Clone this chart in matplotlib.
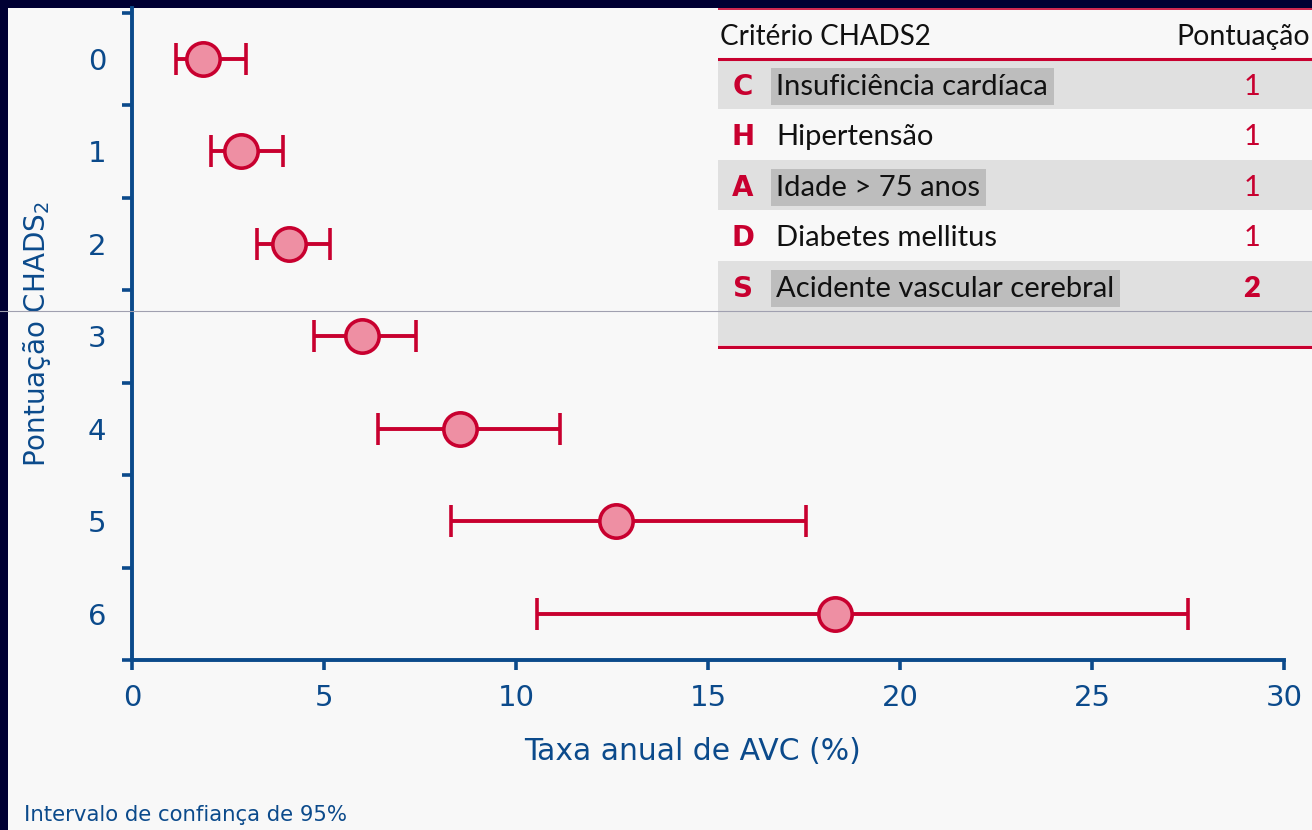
import matplotlib
matplotlib.use('Agg')
import matplotlib.pyplot as plt
from matplotlib.lines import Line2D
from matplotlib.patches import Rectangle
import numpy as np

# ---------------- data ----------------
chads_scores = [0, 1, 2, 3, 4, 5, 6]
stroke_rate = [1.85, 2.85, 4.1, 6.0, 8.55, 12.6, 18.3]
ci_low = [1.15, 2.05, 3.25, 4.75, 6.4, 8.3, 10.55]
ci_high = [2.98, 3.92, 5.15, 7.4, 11.15, 17.55, 27.5]
x_ticks = [0, 5, 10, 15, 20, 25, 30]

criteria_letters = ['C', 'H', 'A', 'D', 'S']
criteria_names = ['Insuficiência cardíaca', 'Hipertensão', 'Idade > 75 anos',
                  'Diabetes mellitus', 'Acidente vascular cerebral']
criteria_points = ['1', '1', '1', '1', '2']
criteria_highlight = [True, False, True, False, True]
row_shaded = [True, False, True, False, True, True]   # 5 criteria rows + blank row

# ---------------- style ----------------
NAVY = '#000033'
BG = '#f8f8f8'
BLUE = '#0b4a8b'
RED = '#c8002f'
PINK = '#ee8fa3'
W, H = 1312, 830

def fx(px):
    return px / W

def fy(py):
    return 1 - py / H

fig = plt.figure(figsize=(W / 100, H / 100), dpi=100, facecolor=NAVY)
fig.add_artist(Rectangle((fx(8), 0), 1 - fx(8), fy(8), transform=fig.transFigure,
                         facecolor=BG, edgecolor='none', zorder=-5))

# ---------------- main chart ----------------
ax = fig.add_axes([fx(132), fy(660), fx(1284) - fx(132), fy(8) - fy(660)])
ax.patch.set_visible(False)
rate = np.array(stroke_rate)
xerr = [rate - np.array(ci_low), np.array(ci_high) - rate]
ax.errorbar(rate, chads_scores, xerr=xerr, fmt='o', ms=24, mfc=PINK, mec=RED, mew=2.6,
            ecolor=RED, elinewidth=2.8, capsize=11.5, capthick=2.8, zorder=3)
ax.set_xlim(0, 30)
ax.set_ylim(6.5, -0.55)
ax.set_xticks(x_ticks)
ax.set_yticks(chads_scores)
ax.set_yticks(np.arange(-0.5, 7.0, 1.0), minor=True)
for s in ['top', 'right']:
    ax.spines[s].set_visible(False)
for s in ['left', 'bottom']:
    ax.spines[s].set_color(BLUE)
    ax.spines[s].set_linewidth(2.8)
    ax.spines[s].set_capstyle('projecting')
ax.tick_params(axis='y', which='major', length=0, pad=18.5, labelsize=21, labelcolor=BLUE)
ax.tick_params(axis='y', which='minor', length=7.2, width=2.6, color=BLUE, direction='out')
ax.tick_params(axis='x', which='major', length=7.2, width=2.6, color=BLUE, direction='out',
               pad=10, labelsize=21, labelcolor=BLUE)
ax.set_xlabel('Taxa anual de AVC (%)', fontsize=21.5, color=BLUE, va='center')
ax.xaxis.set_label_coords((692 - 132) / 1152, (660 - 751) / 652)
ax.set_ylabel('Pontuação CHADS$_2$', fontsize=20, color=BLUE, va='center')
ax.yaxis.set_label_coords((37 - 132) / 1152, 0.5)

fig.text(fx(24), fy(815), 'Intervalo de confiança de 95%', fontsize=15.3, color=BLUE,
         va='center', ha='left')

# ---------------- criteria table ----------------
tax = fig.add_axes([fx(718), fy(349), 1 - fx(718), fy(8) - fy(349)])
tax.set_xlim(0, 1)
n_rows = len(criteria_names)
tax.set_ylim(n_rows + 1.75, 0)
tax.axis('off')
tax.add_patch(Rectangle((0, 0), 1, n_rows + 1.75, facecolor=BG, edgecolor='none', zorder=0))
for i, shaded in enumerate(row_shaded):
    if shaded:
        h = 1 if i < n_rows else 0.68
        tax.add_patch(Rectangle((0, 1 + i), 1, h, facecolor='#e0e0e0', edgecolor='none', zorder=1))

TFONT = ['Lato', 'DejaVu Sans']
tax.text(0.003, 0.57, 'Critério CHADS2', fontsize=20, family=TFONT, color='#111111',
         va='center', ha='left', zorder=3)
tax.text(0.997, 0.57, 'Pontuação', fontsize=20.5, family=TFONT, color='#111111',
         va='center', ha='right', zorder=3)
for i, (let, name, pts, hl) in enumerate(zip(criteria_letters, criteria_names,
                                               criteria_points, criteria_highlight)):
    y = 1.56 + i
    tax.text(0.042, y, let, fontsize=20, family=['DejaVu Sans'], fontweight='heavy',
             color=RED, va='center', ha='center', zorder=3)
    kw = {}
    if hl:
        kw['bbox'] = dict(facecolor='#bdbdbd', edgecolor='none', pad=4)
    tax.text(0.098, y, name, fontsize=21, family=TFONT, color='#111111',
             va='center', ha='left', zorder=3, **kw)
    tax.text(0.899, y, pts, fontsize=21, family=TFONT, color=RED,
             fontweight='heavy' if pts == '2' else 'normal', va='center', ha='center', zorder=3)

tax.axhline(0.02, color=RED, lw=1.2, zorder=4)
tax.axhline(1.0, color=RED, lw=2.2, zorder=4)
tax.axhline(n_rows + 1.72, color=RED, lw=2.4, zorder=4)

# thin grey line across the slide
fig.add_artist(Line2D([0, 1], [fy(311), fy(311)], transform=fig.transFigure,
                      color='#a0a0b0', lw=0.8, zorder=10))

fig.savefig('out.png', dpi=100, facecolor=NAVY)
